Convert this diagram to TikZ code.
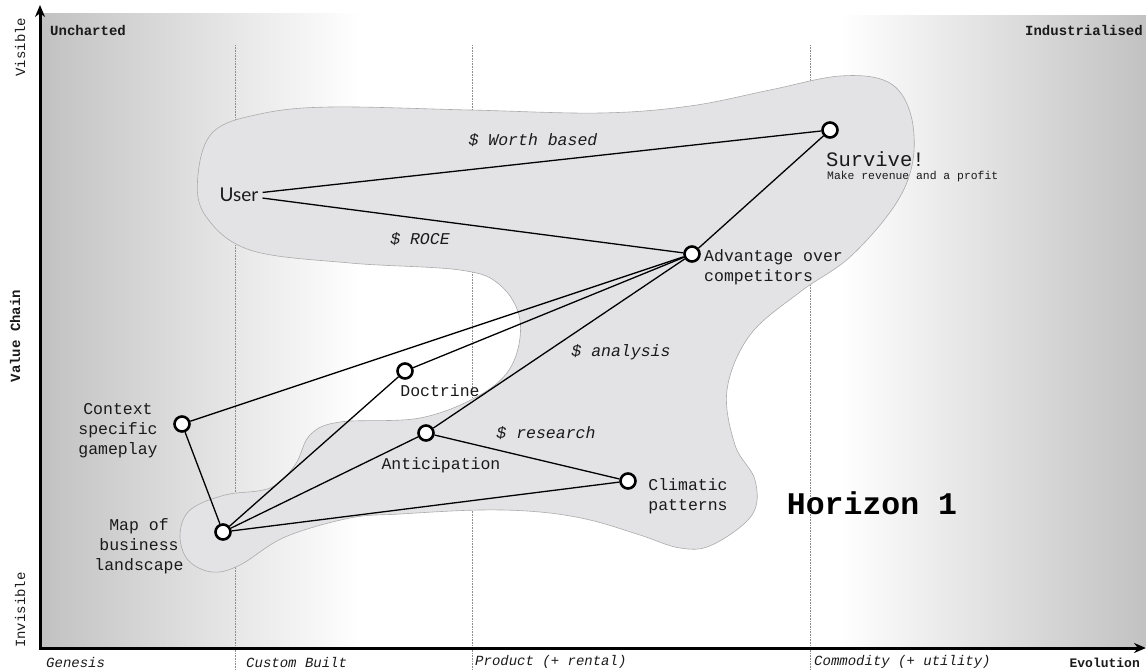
\documentclass[tikz,border=0pt]{standalone}
\usepackage{fontspec}
\setmonofont{Liberation Mono}
\setsansfont{Lato}
\usetikzlibrary{arrows.meta,positioning}
\definecolor{txt}{HTML}{1A1A1A}
\definecolor{blobfill}{HTML}{E3E3E5}
\definecolor{blobline}{HTML}{ABABAB}
\definecolor{grid}{HTML}{8C8C8C}

\begin{document}
\begin{tikzpicture}[
  x=1pt, y=-1pt,
  >=Stealth,
  comp/.style={circle, draw=black, line width=2.6pt, fill=white, minimum size=15pt, inner sep=0pt},
  lbl/.style={font=\ttfamily\fontsize{16.5}{20}\selectfont, text=txt, inner sep=1pt},
  cost/.style={font=\ttfamily\itshape\fontsize{16.5}{20}\selectfont, text=txt, inner sep=1pt},
  axlbl/.style={font=\ttfamily\fontsize{14}{16}\selectfont, text=txt, inner sep=1pt},
  stage/.style={font=\ttfamily\itshape\fontsize{14}{16}\selectfont, text=txt, inner sep=1pt, anchor=west},
  arr/.style={line width=1.3pt, color=black},
  axis/.style={line width=3pt, color=black},
  blob/.style={draw=blobline, line width=0.6pt, fill=blobfill},
  divider/.style={densely dotted, color=grid, line width=0.6pt},
]
\useasboundingbox (0,0) rectangle (1146,670);

% background
\shade[left color=black!24, right color=white] (42,13) rectangle (360,646);
\shade[left color=white, right color=black!24] (840,15) rectangle (1146,646);

\draw[divider] (235,45) -- (235,670);
\draw[divider] (472,45) -- (472,670);
\draw[divider] (810,45) -- (810,670);

% horizon 1 area
\draw[blob] plot[smooth cycle, tension=0.6] coordinates {
  (198,175) (213,132) (260,114) (330,107) (470,110) (600,113) (690,106)
  (770,90) (840,76) (888,82) (910,112) (913,160) (895,205) (850,257)
  (800,292) (750,335) (727,390) (735,445) (755,480) (752,515) (712,545)
  (680,548) (640,535) (590,520) (540,512) (480,510) (400,514) (350,518)
  (285,537) (240,565) (212,572) (188,560) (180,535) (190,510) (225,495)
  (270,488) (295,465) (310,435) (340,422) (420,418) (480,395) (512,365)
  (520,320) (500,285) (460,270) (350,263) (250,250) (205,215)};

% axes
\coordinate (ytop) at (40,5);
\coordinate (orig) at (40,648);
\coordinate (xend) at (1146,648);
\draw[axis, {Stealth[length=12pt,width=10pt]}-{Stealth[length=12pt,width=10pt]}] (ytop) -- (orig) -- (xend);

\node[axlbl, rotate=90] (vis) at (20,47) {Visible};
\node[axlbl, rotate=90, font=\ttfamily\bfseries\fontsize{14}{16}\selectfont] (vchain) at (15,336) {Value Chain};
\node[axlbl, rotate=90] (invis) at (20,610) {Invisible};
\node[axlbl, anchor=west, font=\ttfamily\bfseries\fontsize{14}{16}\selectfont] (unch) at (49,30) {Uncharted};
\node[axlbl, anchor=east, font=\ttfamily\bfseries\fontsize{14}{16}\selectfont] (indus) at (1144,30) {Industrialised};
\node[axlbl, anchor=east, font=\ttfamily\bfseries\fontsize{13}{16}\selectfont] (evo) at (1141,663) {Evolution};

\node[stage] (gen) at (45,662) {Genesis};
\node[stage] (cust) at (245,662) {Custom Built};
\node[stage] (prod) at (474,662) {Product (+ rental)};
\node[stage] (commod) at (813,662) {Commodity (+ utility)};

% components
\node[font=\sffamily\fontsize{19}{21}\selectfont, text=txt, inner sep=4pt] (user) at (239,195) {User};
\node[comp] (survive) at (830,130) {};
\node[comp] (adv) at (692,254) {};
\node[comp] (doctrine) at (405,371) {};
\node[comp] (context) at (182,424) {};
\node[comp] (antic) at (426,433) {};
\node[comp] (climatic) at (628,481) {};
\node[comp] (map) at (223,532) {};

\node[lbl, anchor=west, font=\ttfamily\fontsize{20.5}{22}\selectfont] (survtxt) at (825,159) {Survive!};
\node[lbl, anchor=west, font=\ttfamily\fontsize{11.4}{13}\selectfont] (survsub) at (826,177) {Make revenue and a profit};
\node[lbl, anchor=west, align=left] (advtxt) at (703,267) {Advantage over\\competitors};
\node[lbl] (doctxt) at (440,391) {Doctrine};
\node[lbl, align=center] (ctxtxt) at (118,431) {Context\\specific\\gameplay};
\node[lbl] (antxt) at (441,465) {Anticipation};
\node[lbl, align=left] (climtxt) at (688,496) {Climatic\\patterns};
\node[lbl, align=center] (maptxt) at (139,546) {Map of\\business\\landscape};

\node[cost] (worth) at (533,140) {\$ Worth based};
\node[cost] (roce) at (420,239) {\$ ROCE};
\node[cost] (analysis) at (621,352) {\$ analysis};
\node[cost] (research) at (546,433) {\$ research};

\node[font=\ttfamily\bfseries\fontsize{31.5}{34}\selectfont, text=black] (horizon) at (872,503) {Horizon 1};

% links
\draw[arr] (user) -- (survive);
\draw[arr] (user) -- (adv);
\draw[arr] (survive) -- (adv);
\draw[arr] (adv) -- (context);
\draw[arr] (adv) -- (doctrine);
\draw[arr] (adv) -- (antic);
\draw[arr] (context) -- (map);
\draw[arr] (doctrine) -- (map);
\draw[arr] (antic) -- (map);
\draw[arr] (antic) -- (climatic);
\draw[arr] (map) -- (climatic);

\end{tikzpicture}
\end{document}
